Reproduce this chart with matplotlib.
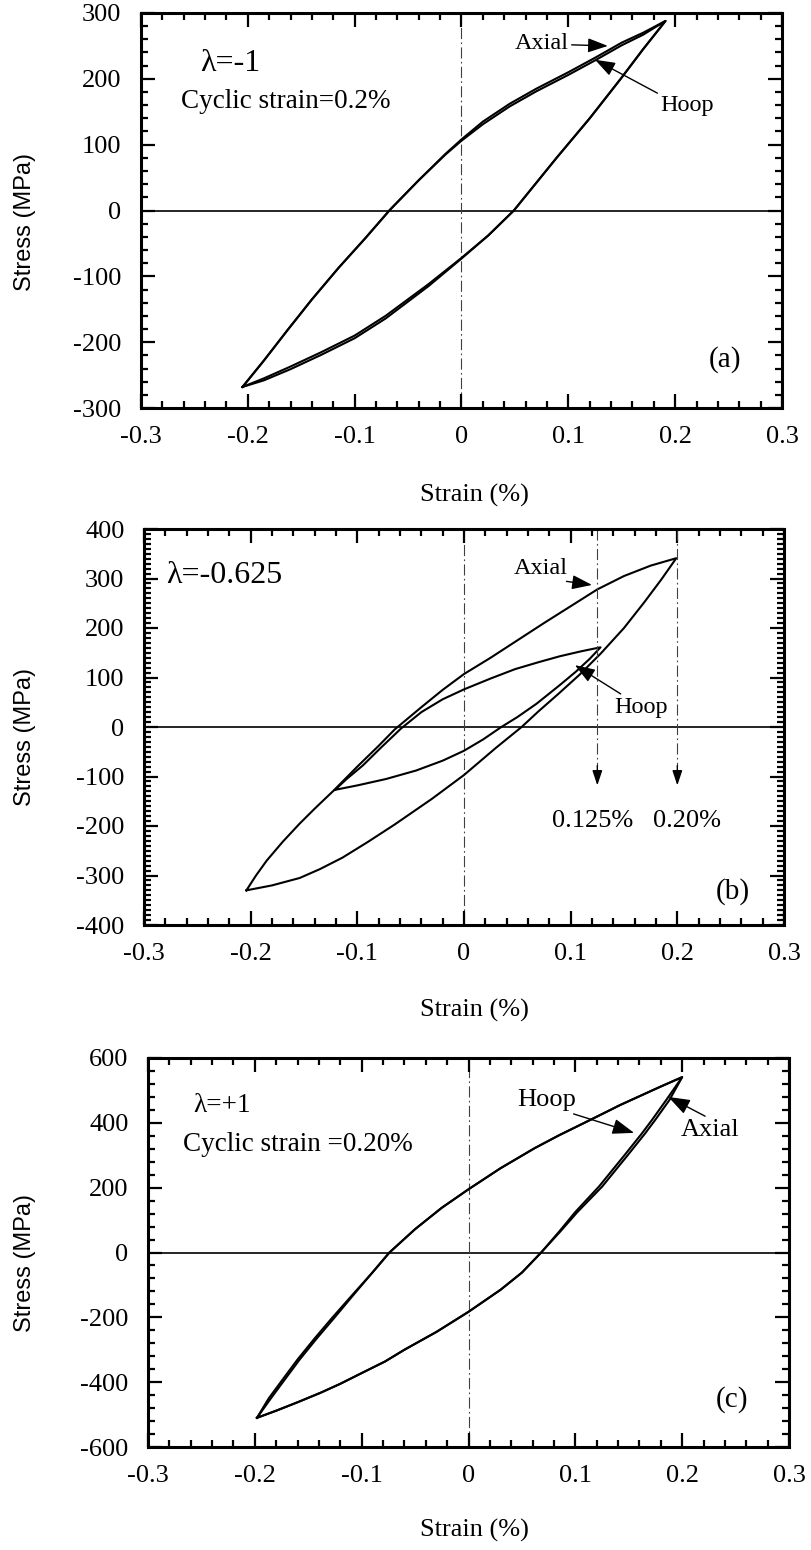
import matplotlib
matplotlib.use('Agg')
import matplotlib.pyplot as plt
from matplotlib.ticker import MultipleLocator, FixedLocator, FixedFormatter

# ---------------- data ----------------
x_ticks = [-0.3, -0.2, -0.1, 0.0, 0.1, 0.2, 0.3]
x_ticklabels = ['-0.3', '-0.2', '-0.1', '0', '0.1', '0.2', '0.3']

ya_ticks = [-300, -200, -100, 0, 100, 200, 300]
yb_ticks = [-400, -300, -200, -100, 0, 100, 200, 300, 400]
yc_ticks = [-600, -400, -200, 0, 200, 400, 600]

# Panel (a) lambda = -1 : loading branch (bottom tip -> top tip), unloading branch (top -> bottom)
a_axial_load_x = [-0.205, -0.185, -0.163, -0.14, -0.115, -0.09, -0.067, -0.04, -0.015, 0.0,
                  0.02, 0.045, 0.07, 0.1, 0.125, 0.15, 0.17, 0.191]
a_axial_load_y = [-268, -228, -182, -135, -87, -42, 1, 46, 86, 108,
                  135, 162, 185, 210, 232, 255, 270, 288]
a_axial_unl_x = [0.191, 0.17, 0.149, 0.12, 0.089, 0.065, 0.049, 0.025, 0.0, -0.031,
                 -0.071, -0.1, -0.131, -0.16, -0.185, -0.205]
a_axial_unl_y = [288, 245, 200, 140, 80, 32, 0, -38, -72, -112,
                 -160, -190, -215, -237, -255, -268]
a_hoop_load_x = a_axial_load_x
a_hoop_load_y = [-268, -228, -182, -135, -87, -42, 1, 46, 85, 106,
                 131, 158, 181, 206, 228, 251, 267, 288]
a_hoop_unl_x = a_axial_unl_x
a_hoop_unl_y = [288, 245, 200, 140, 80, 32, 0, -38, -73, -115,
                -164, -194, -219, -241, -258, -268]

# Panel (b) lambda = -0.625 : axial loop (0.20 %) and hoop loop (0.125 %)
b_axial_load_x = [-0.204, -0.195, -0.185, -0.17, -0.154, -0.14, -0.122, -0.1, -0.08, -0.065,
                  -0.04, -0.02, 0.0, 0.025, 0.05, 0.075, 0.1, 0.125, 0.15, 0.175, 0.199]
b_axial_load_y = [-330, -300, -270, -232, -195, -165, -128, -80, -38, -5,
                  40, 75, 107, 140, 175, 210, 244, 278, 305, 326, 341]
b_axial_unl_x = [0.199, 0.185, 0.169, 0.15, 0.128, 0.108, 0.088, 0.07, 0.054, 0.03,
                 0.0, -0.03, -0.065, -0.09, -0.114, -0.135, -0.154, -0.18, -0.204]
b_axial_unl_y = [341, 298, 252, 200, 148, 105, 66, 32, 0, -42,
                 -97, -145, -197, -232, -264, -287, -305, -320, -330]
b_hoop_load_x = [-0.121, -0.11, -0.095, -0.078, -0.059, -0.04, -0.02, 0.0, 0.025, 0.048,
                 0.07, 0.09, 0.11, 0.128]
b_hoop_load_y = [-127, -105, -78, -42, -3, 30, 56, 76, 98, 117,
                 131, 143, 153, 161]
b_hoop_unl_x = [0.128, 0.118, 0.105, 0.09, 0.068, 0.05, 0.035, 0.018, 0.0, -0.02,
                -0.045, -0.073, -0.1, -0.121]
b_hoop_unl_y = [161, 138, 112, 85, 47, 20, 0, -25, -48, -68,
                -88, -105, -118, -127]

# Panel (c) lambda = +1 : axial and hoop loops (nearly coincident)
c_axial_load_x = [-0.198, -0.185, -0.172, -0.158, -0.142, -0.126, -0.108, -0.09, -0.074, -0.05,
                  -0.025, 0.0, 0.03, 0.062, 0.085, 0.106, 0.125, 0.142, 0.16, 0.18, 0.2]
c_axial_load_y = [-510, -450, -392, -330, -265, -203, -132, -62, 0, 72,
                  138, 195, 260, 322, 362, 396, 427, 455, 482, 512, 541]
c_axial_unl_x = [0.2, 0.185, 0.172, 0.162, 0.145, 0.122, 0.1, 0.085, 0.068, 0.05,
                 0.03, 0.0, -0.03, -0.06, -0.078, -0.1, -0.12, -0.138, -0.16, -0.18, -0.198]
c_axial_unl_y = [541, 470, 410, 366, 296, 203, 125, 65, 0, -62,
                 -115, -183, -245, -300, -336, -372, -405, -432, -462, -488, -510]
c_hoop_load_x = [-0.198, -0.187, -0.174, -0.16, -0.144, -0.128, -0.109, -0.09, -0.074, -0.05,
                 -0.025, 0.0, 0.03, 0.062, 0.085, 0.106, 0.125, 0.142, 0.16, 0.18, 0.2]
c_hoop_load_y = c_axial_load_y
c_hoop_unl_x = [0.2, 0.188, 0.175, 0.165, 0.148, 0.125, 0.102, 0.086, 0.068, 0.05,
                0.03, 0.0, -0.03, -0.06, -0.078, -0.1, -0.12, -0.138, -0.16, -0.18, -0.198]
c_hoop_unl_y = c_axial_unl_y

# ---------------- figure ----------------
W, H = 811, 1550
fig = plt.figure(figsize=(W / 100, H / 100), dpi=100)

SERIF = ['Liberation Serif', 'DejaVu Serif']
SANS = ['Liberation Sans', 'DejaVu Sans']


def add_axes(l, r, t, b):
    return fig.add_axes([l / W, 1 - b / H, (r - l) / W, (b - t) / H])


def style(ax, ylim, yticks, yminor):
    ax.set_xlim(-0.3, 0.3)
    ax.set_ylim(*ylim)
    ax.xaxis.set_major_locator(FixedLocator(x_ticks))
    ax.xaxis.set_major_formatter(FixedFormatter(x_ticklabels))
    ax.xaxis.set_minor_locator(MultipleLocator(0.02))
    ax.yaxis.set_major_locator(FixedLocator(yticks))
    ax.yaxis.set_major_formatter(FixedFormatter([str(v) for v in yticks]))
    ax.yaxis.set_minor_locator(MultipleLocator(yminor))
    ax.tick_params(which='both', direction='in', top=True, right=True, width=1.6)
    ax.tick_params(which='major', length=10)
    ax.tick_params(which='minor', length=5)
    ax.tick_params(axis='x', which='major', pad=13, labelsize=19)
    ax.tick_params(axis='y', which='major', pad=14, labelsize=19)
    for lab in ax.get_xticklabels() + ax.get_yticklabels():
        lab.set_family(SERIF)
    for s in ax.spines.values():
        s.set_linewidth(2.2)
    ax.axhline(0, color='k', lw=1.2, zorder=1)
    ax.axvline(0, color='0.25', lw=0.8, ls=(0, (10, 3, 1.5, 3)), zorder=1)


def loop(ax, xs1, ys1, xs2, ys2):
    ax.plot(list(xs1) + list(xs2)[1:], list(ys1) + list(ys2)[1:], color='k', lw=1.5,
            solid_joinstyle='round')


ARW = dict(arrowstyle='-|>,head_length=0.7,head_width=0.25', color='k', lw=1.0,
           shrinkA=0, shrinkB=0)

# ---- (a) ----
axa = add_axes(141, 782, 13, 408)
style(axa, (-300, 300), ya_ticks, 20)
loop(axa, a_axial_load_x, a_axial_load_y, a_axial_unl_x, a_axial_unl_y)
loop(axa, a_hoop_load_x, a_hoop_load_y, a_hoop_unl_x, a_hoop_unl_y)
axa.text(-0.245, 224, 'λ=-1', fontsize=23, family=SERIF, va='center')
axa.text(-0.263, 165, 'Cyclic strain=0.2%', fontsize=19.5, family=SERIF, va='center')
axa.annotate('Axial', xy=(0.137, 250), xytext=(0.05, 253), fontsize=17.5, family=SERIF,
             va='center', arrowprops=ARW)
axa.annotate('Hoop', xy=(0.125, 229), xytext=(0.186, 160), fontsize=17.5, family=SERIF,
             va='center', arrowprops=dict(ARW, relpos=(0, 1)))
axa.text(0.231, -227, '(a)', fontsize=21, family=SERIF, va='center')

# ---- (b) ----
axb = add_axes(144, 784, 529, 925)
style(axb, (-400, 400), yb_ticks, 10)
loop(axb, b_axial_load_x, b_axial_load_y, b_axial_unl_x, b_axial_unl_y)
loop(axb, b_hoop_load_x, b_hoop_load_y, b_hoop_unl_x, b_hoop_unl_y)
for xv in (0.125, 0.2):
    axb.plot([xv, xv], [400, -80], color='0.25', lw=0.8, ls=(0, (10, 3, 1.5, 3)))
    axb.annotate('', xy=(xv, -118), xytext=(xv, -78),
                 arrowprops=dict(arrowstyle='-|>,head_length=0.9,head_width=0.3',
                                 color='k', lw=1.0, shrinkA=0, shrinkB=0))
axb.text(0.121, -190, '0.125%', fontsize=19, family=SERIF, va='center', ha='center')
axb.text(0.209, -190, '0.20%', fontsize=19, family=SERIF, va='center', ha='center')
axb.text(-0.279, 307, 'λ=-0.625', fontsize=23, family=SERIF, va='center')
axb.annotate('Axial', xy=(0.12, 287), xytext=(0.047, 321), fontsize=17.5, family=SERIF,
             va='center', arrowprops=dict(ARW, relpos=(0.6, 0)))
axb.annotate('Hoop', xy=(0.104, 125), xytext=(0.141, 40), fontsize=17.5, family=SERIF,
             va='center', arrowprops=dict(ARW, relpos=(0.2, 1)))
axb.text(0.236, -333, '(b)', fontsize=21, family=SERIF, va='center')

# ---- (c) ----
axc = add_axes(148, 789, 1058, 1447)
style(axc, (-600, 600), yc_ticks, 40)
loop(axc, c_axial_load_x, c_axial_load_y, c_axial_unl_x, c_axial_unl_y)
loop(axc, c_hoop_load_x, c_hoop_load_y, c_hoop_unl_x, c_hoop_unl_y)
axc.text(-0.258, 455, 'λ=+1', fontsize=19.5, family=SERIF, va='center')
axc.text(-0.267, 332, 'Cyclic strain =0.20%', fontsize=19.5, family=SERIF, va='center')
axc.annotate('Hoop', xy=(0.155, 369), xytext=(0.046, 470), fontsize=19, family=SERIF,
             va='center', arrowprops=dict(ARW, relpos=(0.8, 0)))
axc.annotate('Axial', xy=(0.187, 480), xytext=(0.199, 378), fontsize=19, family=SERIF,
             va='center', arrowprops=dict(ARW, relpos=(0.5, 1)))
axc.text(0.231, -455, '(c)', fontsize=21, family=SERIF, va='center')

# axis labels
for yc, ycen in ((495, 222), (1010, 737), (1530, 1263)):
    fig.text(474 / W, 1 - yc / H, 'Strain (%)', fontsize=19, family=SERIF,
             ha='center', va='center')
    fig.text(25 / W, 1 - ycen / H, 'Stress (MPa)', fontsize=17, family=SANS,
             rotation=90, ha='center', va='center')

fig.savefig('out.png', dpi=100)
